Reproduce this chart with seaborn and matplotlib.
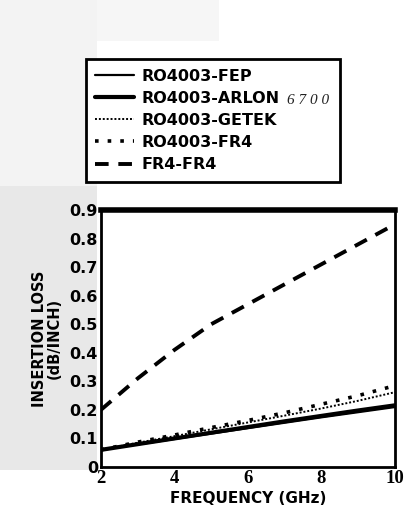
# === IMPORTS ===
import pandas as pd
import seaborn as sns
import matplotlib.pyplot as plt
from matplotlib.lines import Line2D
from matplotlib.patches import Rectangle

# === DATA ===
freq = [2, 3, 4, 5, 6, 7, 8, 9, 10]
fep = [0.060, 0.079, 0.098, 0.117, 0.136, 0.155, 0.174, 0.192, 0.210]
arlon = [0.060, 0.080, 0.100, 0.120, 0.140, 0.160, 0.179, 0.198, 0.216]
getek = [0.060, 0.085, 0.108, 0.132, 0.156, 0.180, 0.205, 0.232, 0.262]
ro_fr4 = [0.060, 0.087, 0.112, 0.138, 0.163, 0.190, 0.220, 0.250, 0.285]
fr4_fr4 = [0.200, 0.310, 0.410, 0.500, 0.570, 0.640, 0.710, 0.780, 0.850]

labels = ["RO4003-FEP", "RO4003-ARLON", "RO4003-GETEK", "RO4003-FR4", "FR4-FR4"]
series = [fep, arlon, getek, ro_fr4, fr4_fr4]
y_ticks = [0, 0.1, 0.2, 0.3, 0.4, 0.5, 0.6, 0.7, 0.8, 0.9]
x_ticks = [2, 4, 6, 8, 10]

# line styles per material
styles = {
    "RO4003-FEP": dict(linestyle="-", linewidth=1.6),
    "RO4003-ARLON": dict(linestyle="-", linewidth=3.0),
    "RO4003-GETEK": dict(linestyle=(0, (1, 1)), linewidth=1.4),
    "RO4003-FR4": dict(linestyle=(0, (1, 2.5)), linewidth=2.6),
    "FR4-FR4": dict(linestyle=(0, (3.5, 2.5)), linewidth=2.8),
}

# === SETTINGS ===
sns.set_style("white")
plt.rcParams["font.family"] = ["DejaVu Sans"]
plt.rcParams["text.color"] = "black"
plt.rcParams["axes.labelcolor"] = "black"
plt.rcParams["xtick.color"] = "black"
plt.rcParams["ytick.color"] = "black"

fig = plt.figure(figsize=(4.05, 5.17), dpi=100)
fig.patch.set_facecolor("white")
# light dithered-looking backdrop of the scan
fig.patches.append(Rectangle((0.0, 0.09), 0.24, 0.55, transform=fig.transFigure,
                             facecolor="#e8e8e8", edgecolor="none", zorder=-5))
fig.patches.append(Rectangle((0.0, 0.64), 0.24, 0.36, transform=fig.transFigure,
                             facecolor="#f3f3f3", edgecolor="none", zorder=-5))
fig.patches.append(Rectangle((0.24, 0.92), 0.3, 0.08, transform=fig.transFigure,
                             facecolor="#f6f6f6", edgecolor="none", zorder=-5))

ax = fig.add_axes([0.249, 0.0967, 0.726, 0.497])

for name, vals in zip(labels, series):
    df = pd.DataFrame({"freq": freq, "loss": vals})
    sns.lineplot(data=df, x="freq", y="loss", ax=ax, color="black",
                 **styles[name])

ax.set_xlim(2, 10)
ax.set_ylim(0, 0.9)
ax.set_xticks(x_ticks)
ax.set_yticks(y_ticks)
ax.set_xticklabels([str(t) for t in x_ticks], family="Liberation Serif",
                   fontweight="bold", fontsize=13.5)
ax.set_yticklabels(["0"] + [f"{t:.1f}" for t in y_ticks[1:]],
                   fontweight="bold", fontsize=11.5)
ax.tick_params(axis="both", direction="in", length=5, width=1.5, color="black", pad=2)
ax.set_xlabel("FREQUENCY (GHz)", fontweight="bold", fontsize=11, labelpad=3)
ax.set_ylabel("INSERTION LOSS\n(dB/INCH)", fontweight="bold", fontsize=10.5,
              labelpad=6, linespacing=0.95)

for side in ["left", "right", "bottom"]:
    ax.spines[side].set_color("black")
    ax.spines[side].set_linewidth(2)
ax.spines["top"].set_color("black")
ax.spines["top"].set_linewidth(4)
ax.set_facecolor("white")

# === LEGEND ===
handles = [Line2D([0], [0], color="black", **styles[n]) for n in labels]
leg = fig.legend(handles, labels, loc="upper left", mode="expand",
                 bbox_to_anchor=(0.212, 0.886, 0.628, 0.0),
                 bbox_transform=fig.transFigure, borderaxespad=0,
                 frameon=True, fancybox=False,
                 edgecolor="black", handlelength=2.4, handletextpad=0.5,
                 borderpad=0.6, labelspacing=0.45,
                 prop={"weight": "bold", "size": 11.5})
leg.get_frame().set_linewidth(2)
leg.get_frame().set_facecolor("white")
leg.get_frame().set_alpha(1)

# handwritten note next to ARLON entry
fig.text(0.708, 0.806, "6 7 0 0", family="Liberation Serif", style="italic",
         fontsize=11, color="#222222", va="center", zorder=10)

plt.savefig("out.png", dpi=100)
plt.close()
